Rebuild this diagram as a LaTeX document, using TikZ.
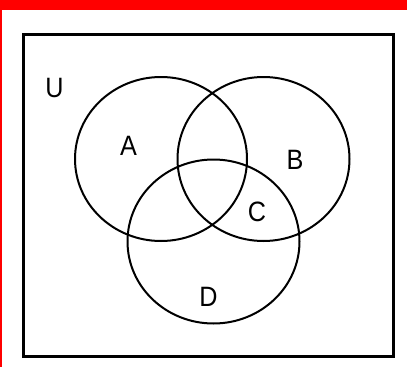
\documentclass[tikz,border=0pt]{standalone}
\usepackage{fontspec}
\setmainfont{Liberation Sans}
\usetikzlibrary{shapes.geometric}
\definecolor{frame}{RGB}{255,0,0}

\begin{document}
\begin{tikzpicture}[
  x=1pt, y=-1pt,
  set/.style={draw, ellipse, line width=2pt, minimum width=172pt, minimum height=164pt, inner sep=0pt},
  lbl/.style={font=\fontsize{28}{30}\selectfont, inner sep=0pt, xscale=0.9},
]
  \useasboundingbox (0,0) rectangle (407,367);
  % red edge of the window
  \fill[frame] (0,0) rectangle (407,10);
  \fill[frame] (0,0) rectangle (2,367);
  % universe
  \draw[line width=3pt] (23.5,34.5) rectangle (393.5,356);
  % the three sets
  \node[set] (setA) at (161,159) {};
  \node[set] (setB) at (263.5,159) {};
  \node[set] (setD) at (213.5,241.5) {};
  \node[lbl] (labU) at (54.5,88) {U};
  \node[lbl] (labA) at (128.5,146) {A};
  \node[lbl] (labB) at (295,160) {B};
  \node[lbl] (labC) at (257,212) {C};
  \node[lbl] (labD) at (208.5,297) {D};
\end{tikzpicture}
\end{document}
